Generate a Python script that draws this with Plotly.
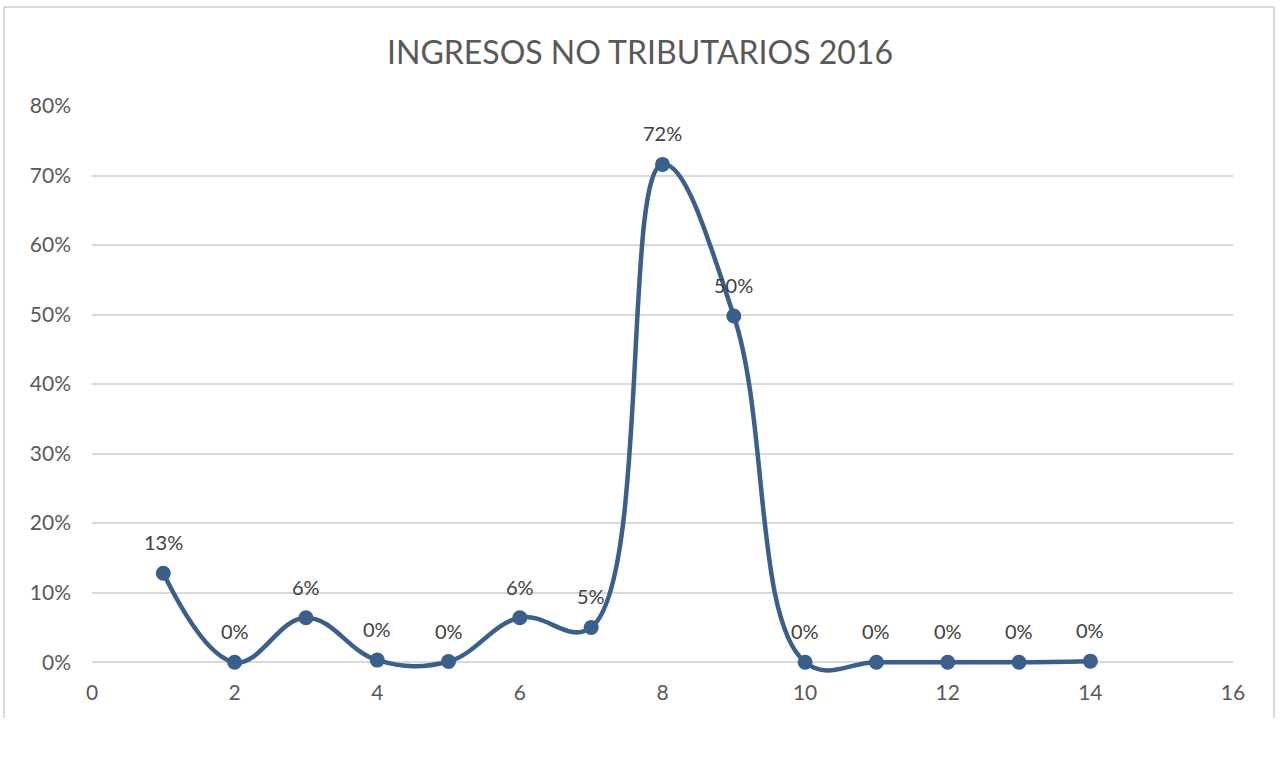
"""
Line chart: ingresos no tributarios 2016
"""
import plotly.graph_objects as go

# data
x_vals = [1, 2, 3, 4, 5, 6, 7, 8, 9, 10, 11, 12, 13, 14]
share = [0.128, 0.0, 0.064, 0.003, 0.001, 0.064, 0.050, 0.716, 0.498, 0.0, 0.0, 0.0, 0.0, 0.0015]
labels = ['13%', '0%', '6%', '0%', '0%', '6%', '5%', '72%', '50%', '0%', '0%', '0%', '0%', '0%']
y_ticks = [0, 0.1, 0.2, 0.3, 0.4, 0.5, 0.6, 0.7, 0.8]
x_ticks = [0, 2, 4, 6, 8, 10, 12, 14, 16]

LINE = '#3A5F8A'
GRID = '#D9D9D9'
TXT = '#595959'
FONT = 'Lato'

# y range goes a bit below zero so the smoothed line is not clipped;
# the x axis is pinned at y = 0
Y_MIN, Y_MAX = -0.04, 0.8
x_axis_pos = -Y_MIN / (Y_MAX - Y_MIN)

fig = go.Figure()

fig.add_trace(go.Scatter(
    x=x_vals, y=share,
    mode='lines+markers',
    line=dict(color=LINE, width=4.5, shape='spline', smoothing=1.15),
    marker=dict(size=15, color=LINE),
    cliponaxis=False,
    hoverinfo='skip',
    showlegend=False,
))

# data labels above the points
for xv, yv, lab in zip(x_vals, share, labels):
    fig.add_annotation(x=xv, y=yv, text=lab, showarrow=False, yshift=31,
                       font=dict(size=20, color='#404040', family=FONT))

# chart frame (top, left, right edges), in pixels relative to the plot area
plot_h = 758 - 106 - 68
top_y = 1 + (106 - 7) / plot_h
bot_y = -(758 - 106 - plot_h - 40) / plot_h
frame = dict(type='line', xref='paper', yref='paper', line=dict(color=GRID, width=2))
fig.add_shape(**frame, x0=-0.0771, x1=1.036, y0=top_y, y1=top_y)
fig.add_shape(**frame, x0=-0.0771, x1=-0.0771, y0=top_y, y1=bot_y)
fig.add_shape(**frame, x0=1.036, x1=1.036, y0=top_y, y1=bot_y)

fig.update_layout(
    width=1280, height=758,
    margin=dict(l=92, r=47, t=106, b=68),
    paper_bgcolor='white',
    plot_bgcolor='white',
    font=dict(family=FONT, color=TXT, size=21),
    title=dict(text='INGRESOS NO TRIBUTARIOS 2016', x=0.5, xanchor='center',
               y=0.931, yanchor='middle',
               font=dict(size=32, family=FONT, color=TXT)),
    xaxis=dict(range=[0, 16], tickvals=x_ticks, showgrid=False, zeroline=False,
               showline=False, ticks='', ticklabelstandoff=16,
               anchor='free', position=x_axis_pos,
               tickfont=dict(size=21, color=TXT)),
    yaxis=dict(range=[Y_MIN, Y_MAX], tickvals=y_ticks, tickformat='.0%', gridcolor=GRID,
               gridwidth=2, zeroline=False, showline=False, ticks='',
               ticklabelstandoff=20, tickfont=dict(size=21, color=TXT)),
)

fig.write_html("out.html", config={'displayModeBar': False},
               post_script="document.body.style.margin='0px';")
